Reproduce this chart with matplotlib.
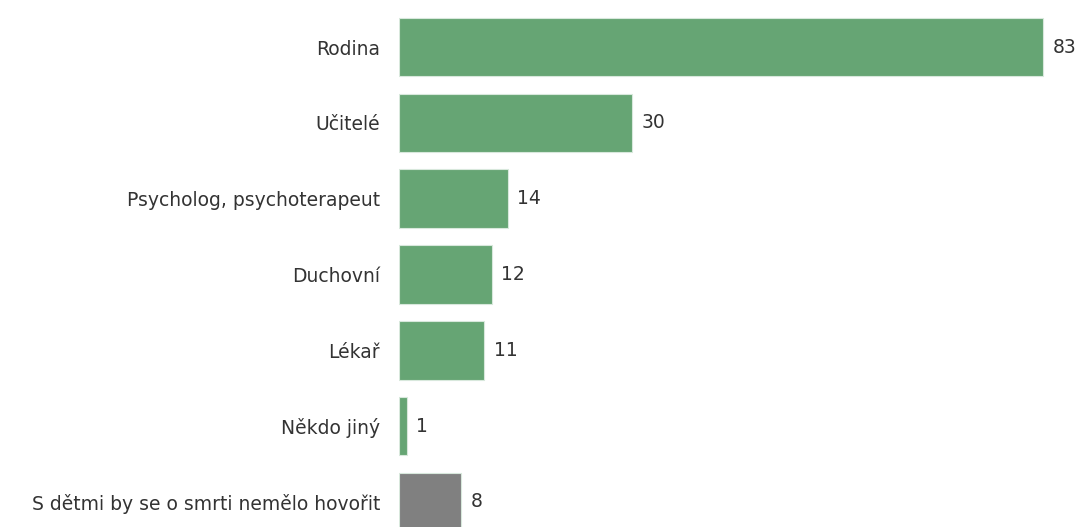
import matplotlib.pyplot as plt

categories = ["Rodina", "Učitelé", "Psycholog, psychoterapeut", "Duchovní",
              "Lékař", "Někdo jiný", "S dětmi by se o smrti nemělo hovořit"]
values = [83, 30, 14, 12, 11, 1, 8]
colors = ["#66a574"] * 6 + ["#808080"]

fig = plt.figure(figsize=(10.79, 5.27), dpi=100)
ax = fig.add_axes([399 / 1079, 0, 680 / 1079, 1])

pos = list(range(len(categories)))
ax.barh(pos, values, height=0.77, color=colors, edgecolor="#d8e8dc", linewidth=0.8)

for p, v in zip(pos, values):
    ax.text(v + 1.2, p, str(v), va="center", ha="left", fontsize=13.5, color="#333333")

ax.set_xlim(0, 680 / 7.76)
ax.set_ylim(6 + 25 / 75.83, -47 / 75.83)
ax.set_yticks(pos)
ax.set_yticklabels(categories, fontsize=13.5, color="#333333")
ax.tick_params(axis="y", length=0, pad=13.5)
ax.set_xticks([])
for s in ax.spines.values():
    s.set_visible(False)

fig.savefig("out.png", dpi=100)
